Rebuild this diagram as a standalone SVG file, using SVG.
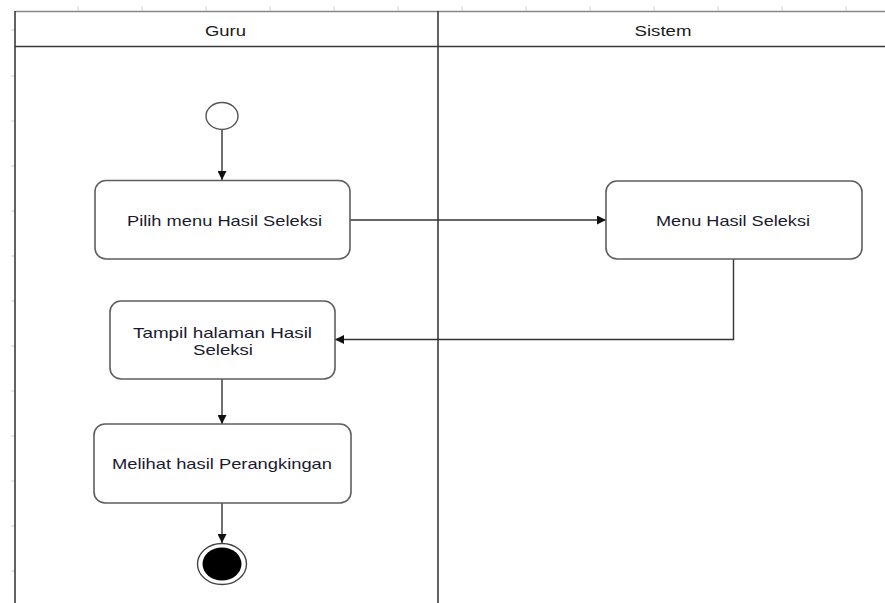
<svg xmlns="http://www.w3.org/2000/svg" width="885" height="603" viewBox="0 0 885 603">
  <defs>
    <style>
      .lane { fill: none; stroke: #3a3a3a; stroke-width: 1.6; }
      .lane-top { fill: none; stroke: #888; stroke-width: 1.4; }
      .tick { stroke: #cfcfcf; stroke-width: 1; }
      .box { fill: #ffffff; stroke: #5e5e5e; stroke-width: 1.6; }
      .edge { fill: none; stroke: #333; stroke-width: 1.4; }
      .label { font-family: "Liberation Sans", Arial, sans-serif; font-size: 15px; fill: #1a1a2e; text-anchor: middle; }
      .head { font-family: "Liberation Sans", Arial, sans-serif; font-size: 14px; fill: #1a1a1a; text-anchor: middle; }
    </style>
    <marker id="arrow" viewBox="0 0 10 10" refX="10" refY="5" markerWidth="9" markerHeight="9" markerUnits="userSpaceOnUse" orient="auto">
      <path d="M0,0 L10,5 L0,10 z" fill="#111"/>
    </marker>
  </defs>

  <rect width="885" height="603" fill="#ffffff"/>

  <!-- ruler ticks -->
  <g id="ruler">
    <path class="tick" d="M78,6 V11 M142,6 V11 M206,6 V11 M270,6 V11 M334,6 V11 M398,6 V11 M462,6 V11 M526,6 V11 M590,6 V11 M654,6 V11 M718,6 V11 M782,6 V11 M846,6 V11"/>
    <path class="tick" d="M11,30 H15 M11,76 H15 M11,121 H15 M11,166 H15 M11,211 H15 M11,256 H15 M11,301 H15 M11,346 H15 M11,391 H15 M11,436 H15 M11,481 H15 M11,526 H15 M11,571 H15"/>
  </g>

  <!-- swimlanes -->
  <g id="lanes">
    <line class="lane-top" x1="15" y1="11.5" x2="885" y2="11.5"/>
    <line class="lane" x1="15" y1="11" x2="15" y2="603"/>
    <line class="lane" x1="15" y1="46.5" x2="885" y2="46.5"/>
    <line class="lane" x1="438" y1="11" x2="438" y2="603"/>
    <text class="head" x="225.5" y="36" textLength="41" lengthAdjust="spacingAndGlyphs">Guru</text>
    <text class="head" x="663" y="36" textLength="57" lengthAdjust="spacingAndGlyphs">Sistem</text>
  </g>

  <!-- connectors -->
  <g id="connectors">
    <line class="edge" x1="222" y1="130" x2="222" y2="180" marker-end="url(#arrow)"/>
    <line class="edge" x1="350" y1="220" x2="606" y2="220" marker-end="url(#arrow)"/>
    <polyline class="edge" points="733.5,259 733.5,339.5 335,339.5" marker-end="url(#arrow)"/>
    <line class="edge" x1="222" y1="379" x2="222" y2="424" marker-end="url(#arrow)"/>
    <line class="edge" x1="222" y1="503" x2="222" y2="543" marker-end="url(#arrow)"/>
  </g>

  <g id="start">
    <ellipse cx="222" cy="116" rx="16" ry="13.5" fill="#fff" stroke="#555" stroke-width="1.4"/>
  </g>

  <g id="pilih-menu">
    <rect class="box" x="95" y="180.5" width="255" height="78.5" rx="11"/>
    <text class="label" x="224.5" y="226" textLength="195" lengthAdjust="spacingAndGlyphs">Pilih menu Hasil Seleksi</text>
  </g>

  <g id="menu-hasil">
    <rect class="box" x="606" y="181" width="256" height="78" rx="11"/>
    <text class="label" x="733" y="226" textLength="154" lengthAdjust="spacingAndGlyphs">Menu Hasil Seleksi</text>
  </g>

  <g id="tampil-halaman">
    <rect class="box" x="110" y="301" width="225" height="78" rx="11"/>
    <text class="label" x="222.5" y="338" textLength="179" lengthAdjust="spacingAndGlyphs">Tampil halaman Hasil</text>
    <text class="label" x="223" y="355" textLength="60" lengthAdjust="spacingAndGlyphs">Seleksi</text>
  </g>

  <g id="melihat-hasil">
    <rect class="box" x="94" y="424" width="257" height="79" rx="11"/>
    <text class="label" x="222" y="469" textLength="220" lengthAdjust="spacingAndGlyphs">Melihat hasil Perangkingan</text>
  </g>

  <g id="end">
    <ellipse cx="222" cy="564" rx="24.5" ry="20.5" fill="#fff" stroke="#444" stroke-width="1.4"/>
    <ellipse cx="222" cy="564" rx="19.5" ry="16.5" fill="#000"/>
  </g>
</svg>
